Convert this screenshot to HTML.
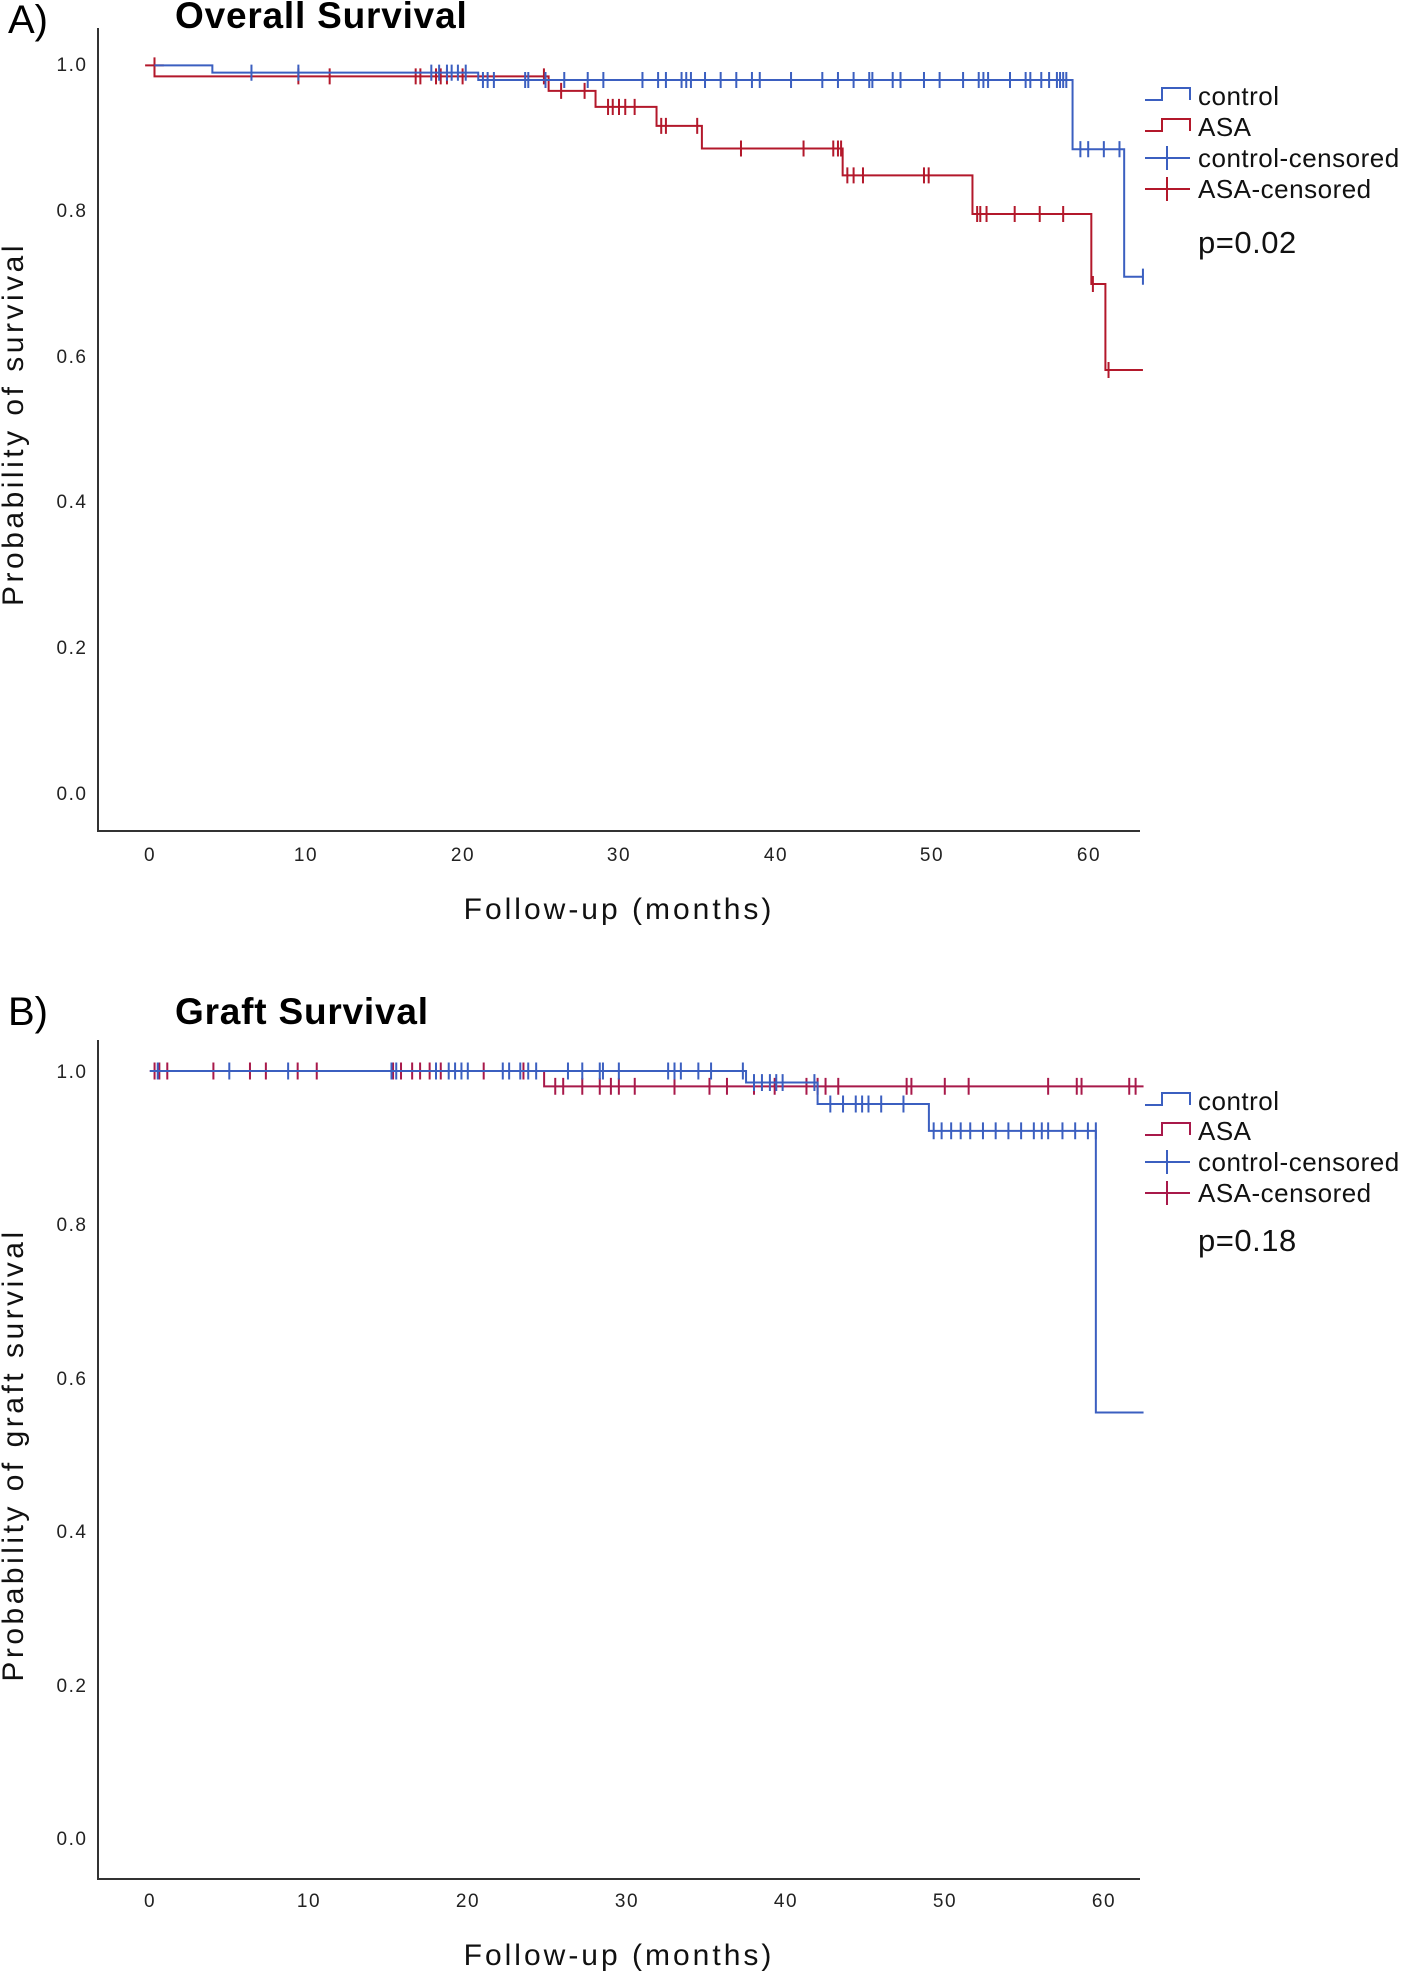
<!DOCTYPE html>
<html><head><meta charset="utf-8"><style>
html,body{margin:0;padding:0;background:#fff;}
svg{display:block;font-family:"Liberation Sans",sans-serif;}
</style></head><body>
<svg width="1417" height="1973" viewBox="0 0 1417 1973" xmlns="http://www.w3.org/2000/svg">
<!-- Panel A -->
<text x="8" y="33" font-size="40" fill="#000">A)</text>
<text x="175" y="28" font-size="37" font-weight="bold" fill="#000" letter-spacing="0.8">Overall Survival</text>
<path d="M98 28 V831 H1140" stroke="#333" stroke-width="2" fill="none"/>
<g font-size="19" fill="#222" text-anchor="middle" letter-spacing="1.5">
<text x="72" y="71">1.0</text><text x="72" y="217">0.8</text><text x="72" y="363">0.6</text>
<text x="72" y="508">0.4</text><text x="72" y="654">0.2</text><text x="72" y="800">0.0</text>
<text x="150" y="861">0</text><text x="306" y="861">10</text><text x="463" y="861">20</text>
<text x="619" y="861">30</text><text x="776" y="861">40</text><text x="932" y="861">50</text><text x="1089" y="861">60</text>
</g>
<text x="619" y="919" font-size="30" text-anchor="middle" letter-spacing="3" fill="#111">Follow-up (months)</text>
<text transform="translate(23,424) rotate(-90)" font-size="30" text-anchor="middle" letter-spacing="3.5" fill="#111">Probability of survival</text>

<g transform="translate(149.8,794) scale(15.64,-728.6)" fill="none" stroke-width="2">
<path vector-effect="non-scaling-stroke" stroke="#b3182b" d="M0.3 1 V0.985 H25.5 V0.965 H28.5 V0.943 H32.4 V0.917 H35.3 V0.886 H44.3 V0.849 H52.6 V0.796 H60.2 V0.70 H61.1 V0.582 H63.5"/>
<path vector-effect="non-scaling-stroke" stroke="#b3182b" d="M0.3 0.989 v0.022 M-0.3 1 h1.2 M9.5 0.974 v0.022 M11.5 0.974 v0.022 M17 0.974 v0.022 M17.3 0.974 v0.022 M18.3 0.974 v0.022 M18.6 0.974 v0.022 M19 0.974 v0.022 M20 0.974 v0.022 M25.2 0.974 v0.022
M26.3 0.954 v0.022 M27.8 0.954 v0.022 M29.3 0.932 v0.022 M29.6 0.932 v0.022 M30 0.932 v0.022 M30.4 0.932 v0.022 M31 0.932 v0.022
M32.7 0.906 v0.022 M33 0.906 v0.022 M35 0.906 v0.022 M37.8 0.875 v0.022 M41.8 0.875 v0.022 M43.7 0.875 v0.022 M44 0.875 v0.022 M44.2 0.875 v0.022
M44.6 0.838 v0.022 M45 0.838 v0.022 M45.6 0.838 v0.022 M49.5 0.838 v0.022 M49.8 0.838 v0.022
M52.9 0.785 v0.022 M53.1 0.785 v0.022 M53.5 0.785 v0.022 M55.3 0.785 v0.022 M56.9 0.785 v0.022 M58.4 0.785 v0.022 M60.3 0.689 v0.022 M61.3 0.571 v0.022"/>
<path vector-effect="non-scaling-stroke" stroke="#3b5fc0" d="M0.3 1 H4 V0.99 H21 V0.98 H59 V0.885 H62.3 V0.71 H63.5"/>
<path vector-effect="non-scaling-stroke" stroke="#3b5fc0" d="M6.5 0.979 v0.022 M9.5 0.979 v0.022 M18 0.979 v0.022 M18.5 0.979 v0.022 M19 0.979 v0.022 M19.3 0.979 v0.022 M19.7 0.979 v0.022 M20.2 0.979 v0.022
M21.3 0.969 v0.022 M21.6 0.969 v0.022 M22 0.969 v0.022 M24 0.969 v0.022 M24.2 0.969 v0.022 M25.3 0.969 v0.022 M26.5 0.969 v0.022 M28 0.969 v0.022 M29 0.969 v0.022 M31.5 0.969 v0.022 M32.5 0.969 v0.022 M33 0.969 v0.022 M34 0.969 v0.022 M34.3 0.969 v0.022 M34.6 0.969 v0.022 M35.5 0.969 v0.022 M36.5 0.969 v0.022 M37.5 0.969 v0.022 M38.5 0.969 v0.022 M39 0.969 v0.022 M41 0.969 v0.022 M43 0.969 v0.022 M44 0.969 v0.022 M45 0.969 v0.022 M46 0.969 v0.022 M46.2 0.969 v0.022 M47.5 0.969 v0.022 M48 0.969 v0.022 M49.5 0.969 v0.022 M50.5 0.969 v0.022 M52 0.969 v0.022 M53 0.969 v0.022 M53.3 0.969 v0.022 M53.6 0.969 v0.022 M55 0.969 v0.022 M56 0.969 v0.022 M56.3 0.969 v0.022 M57 0.969 v0.022 M57.5 0.969 v0.022 M58 0.969 v0.022 M58.2 0.969 v0.022 M58.4 0.969 v0.022 M58.6 0.969 v0.022
M59.5 0.874 v0.022 M60 0.874 v0.022 M61 0.874 v0.022 M62 0.874 v0.022 M63.5 0.699 v0.022"/>
</g>
<g stroke-width="2" fill="none">
<path d="M1145 100 H1162 V88 H1190 V100" stroke="#3b5fc0"/>
<path d="M1145 131 H1162 V119 H1190 V131" stroke="#b3182b"/>
<path d="M1145 158 H1190 M1167 146 V170" stroke="#3b5fc0"/>
<path d="M1145 189 H1190 M1167 177 V201" stroke="#b3182b"/>
</g>
<g font-size="26" fill="#111" letter-spacing="0.5">
<text x="1198" y="105">control</text><text x="1198" y="136">ASA</text>
<text x="1198" y="167">control-censored</text><text x="1198" y="198">ASA-censored</text>
<text x="1198" y="253" font-size="31">p=0.02</text>
</g>

<!-- Panel B -->
<text x="8" y="1025" font-size="40" fill="#000">B)</text>
<text x="175" y="1024" font-size="37" font-weight="bold" fill="#000" letter-spacing="0.8">Graft Survival</text>
<path d="M98 1040 V1879 H1140" stroke="#333" stroke-width="2" fill="none"/>
<g font-size="19" fill="#222" text-anchor="middle" letter-spacing="1.5">
<text x="72" y="1078">1.0</text><text x="72" y="1231">0.8</text><text x="72" y="1385">0.6</text>
<text x="72" y="1538">0.4</text><text x="72" y="1692">0.2</text><text x="72" y="1845">0.0</text>
<text x="150" y="1907">0</text><text x="309" y="1907">10</text><text x="468" y="1907">20</text>
<text x="627" y="1907">30</text><text x="786" y="1907">40</text><text x="945" y="1907">50</text><text x="1104" y="1907">60</text>
</g>
<text x="619" y="1965" font-size="30" text-anchor="middle" letter-spacing="3" fill="#111">Follow-up (months)</text>
<text transform="translate(23,1455) rotate(-90)" font-size="30" text-anchor="middle" letter-spacing="3.5" fill="#111">Probability of graft survival</text>

<g transform="translate(149.8,1838.5) scale(15.9,-767.5)" fill="none" stroke-width="2">
<path vector-effect="non-scaling-stroke" stroke="#a8194a" d="M0 1 H24.8 V0.98 H62.5"/>
<path vector-effect="non-scaling-stroke" stroke="#a8194a" d="M0.3 0.989 v0.022 M0.6 0.989 v0.022 M1.1 0.989 v0.022 M4 0.989 v0.022 M6.3 0.989 v0.022 M7.3 0.989 v0.022 M9.3 0.989 v0.022 M10.5 0.989 v0.022 M15.3 0.989 v0.022 M15.8 0.989 v0.022 M16.5 0.989 v0.022 M17 0.989 v0.022 M17.6 0.989 v0.022 M18.3 0.989 v0.022 M21 0.989 v0.022 M23.5 0.989 v0.022
M25.5 0.969 v0.022 M26 0.969 v0.022 M27.2 0.969 v0.022 M28.3 0.969 v0.022 M29 0.969 v0.022 M29.5 0.969 v0.022 M30.5 0.969 v0.022 M33 0.969 v0.022 M35.2 0.969 v0.022 M36.3 0.969 v0.022 M38 0.969 v0.022 M39.3 0.969 v0.022 M41.3 0.969 v0.022 M42 0.969 v0.022 M42.5 0.969 v0.022 M43.3 0.969 v0.022 M47.6 0.969 v0.022 M47.9 0.969 v0.022 M50 0.969 v0.022 M51.5 0.969 v0.022 M56.5 0.969 v0.022 M58.3 0.969 v0.022 M58.6 0.969 v0.022 M61.6 0.969 v0.022 M62 0.969 v0.022"/>
<path vector-effect="non-scaling-stroke" stroke="#3b5fc0" d="M0 1 H37.5 V0.985 H42 V0.957 H49 V0.922 H59.5 V0.555 H62.5"/>
<path vector-effect="non-scaling-stroke" stroke="#3b5fc0" d="M0.5 0.989 v0.022 M5 0.989 v0.022 M8.7 0.989 v0.022 M15.2 0.989 v0.022 M15.5 0.989 v0.022 M18 0.989 v0.022 M18.8 0.989 v0.022 M19.2 0.989 v0.022 M19.6 0.989 v0.022 M20 0.989 v0.022 M22.2 0.989 v0.022 M22.6 0.989 v0.022 M23.3 0.989 v0.022 M23.8 0.989 v0.022 M24.3 0.989 v0.022 M26.3 0.989 v0.022 M27.2 0.989 v0.022 M28.3 0.989 v0.022 M28.5 0.989 v0.022 M29.5 0.989 v0.022 M32.6 0.989 v0.022 M33 0.989 v0.022 M33.4 0.989 v0.022 M34.5 0.989 v0.022 M35.3 0.989 v0.022 M37.3 0.989 v0.022
M38 0.974 v0.022 M38.5 0.974 v0.022 M39 0.974 v0.022 M39.4 0.974 v0.022 M39.8 0.974 v0.022 M41.8 0.974 v0.022
M42.8 0.946 v0.022 M43.6 0.946 v0.022 M44.4 0.946 v0.022 M44.8 0.946 v0.022 M45.2 0.946 v0.022 M46 0.946 v0.022 M47.4 0.946 v0.022
M49.3 0.911 v0.022 M49.8 0.911 v0.022 M50.4 0.911 v0.022 M51 0.911 v0.022 M51.6 0.911 v0.022 M52.4 0.911 v0.022 M53.2 0.911 v0.022 M54 0.911 v0.022 M54.8 0.911 v0.022 M55.6 0.911 v0.022 M56.1 0.911 v0.022 M56.5 0.911 v0.022 M57.4 0.911 v0.022 M58.2 0.911 v0.022 M59 0.911 v0.022 M59.5 0.911 v0.022"/>
</g>
<g stroke-width="2" fill="none">
<path d="M1145 1105 H1162 V1093 H1190 V1105" stroke="#3b5fc0"/>
<path d="M1145 1135 H1162 V1123 H1190 V1135" stroke="#a8194a"/>
<path d="M1145 1162 H1190 M1167 1150 V1174" stroke="#3b5fc0"/>
<path d="M1145 1193 H1190 M1167 1181 V1205" stroke="#a8194a"/>
</g>
<g font-size="26" fill="#111" letter-spacing="0.5">
<text x="1198" y="1110">control</text><text x="1198" y="1140">ASA</text>
<text x="1198" y="1171">control-censored</text><text x="1198" y="1202">ASA-censored</text>
<text x="1198" y="1251" font-size="31">p=0.18</text>
</g>
</svg>
</body></html>
